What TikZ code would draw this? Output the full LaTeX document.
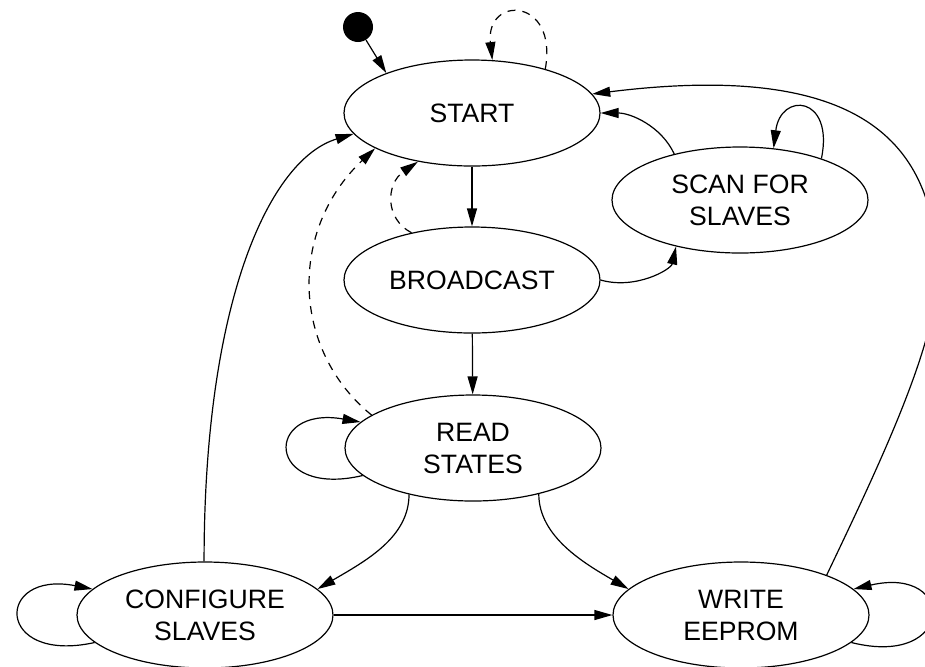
\documentclass[tikz,border=0pt]{standalone}
\usepackage{fontspec}
\setmainfont{Liberation Sans}
\usetikzlibrary{shapes.geometric,arrows.meta}

\begin{document}
\begin{tikzpicture}[
            x=0.5pt, y=-0.5pt,
            state/.style={ellipse, draw, line width=0.6pt, minimum width=128pt, minimum height=53pt, inner sep=0pt, align=center, font=\fontsize{13.3}{16}\selectfont},
            init/.style={circle, fill=black, inner sep=0pt, minimum size=15pt},
            trans/.style={draw, line width=0.6pt, -{Triangle[length=9pt, width=5pt]}},
            trans_dashed/.style={trans, dash pattern=on 4pt off 3.5pt}
        ]
        \useasboundingbox (0,0) rectangle (925,666);

        % Initial marker
        \node[init] (init) at (358,27) {};

        % States
        \node[state] (start) at (472,113) {START};
        \node[state] (scan) at (740,200) {SCAN FOR\\SLAVES};
        \node[state] (broadcast) at (472,280) {BROADCAST};
        \node[state] (read_states) at (473,448) {READ\\STATES};
        \node[state] (configure) at (205,615) {CONFIGURE\\SLAVES};
        \node[state] (write_eeprom) at (741,615) {WRITE\\EEPROM};

        \draw[trans] (init) -- (start.155);
        \draw[trans_dashed] (start.31) .. controls +(13,-72) and +(-7,-65) .. (start.69);

        \draw[trans] (start) -- (broadcast);
        \draw[trans] (broadcast) -- (read_states);
        \draw[trans] (configure) -- (write_eeprom);

        \draw[trans] (scan.145) .. controls +(-13,-28) and +(30,0) .. (start.0);
        \draw[trans] (scan.27) .. controls +(13,-63) and +(7,-57) .. (scan.57);
        \draw[trans] (broadcast.0) .. controls +(35,10) and +(-5,23) .. (scan.216);

        \draw[trans_dashed] (broadcast.142) .. controls +(-27,-14) and +(-32,22) .. (start.222);
        \draw[trans_dashed] (read_states.162) .. controls +(-80,-65) and +(-87,82) .. (start.200);

        \draw[trans] (configure.91) .. controls +(0,-263) and +(-83,25) .. (start.190);

        \draw[trans] (read_states.194) .. controls +(-98,23) and +(-97,-17) .. (read_states.167);
        \draw[trans] (read_states.216) .. controls +(0,43) and +(48,-28) .. (configure.13);
        \draw[trans] (read_states.325) .. controls +(0,43) and +(-43,-25) .. (write_eeprom.167);

        \draw[trans] (configure.194) .. controls +(-100,22) and +(-98,-19) .. (configure.167);
        \draw[trans] (write_eeprom.346) .. controls +(104,26) and +(104,-24) .. (write_eeprom.13);

        \draw[trans] (write_eeprom.25) .. controls +(50,-105) and +(0,70) .. (937,275)
            .. controls +(0,-135) and +(266,-33) .. (start.9);

    \end{tikzpicture}
\end{document}
